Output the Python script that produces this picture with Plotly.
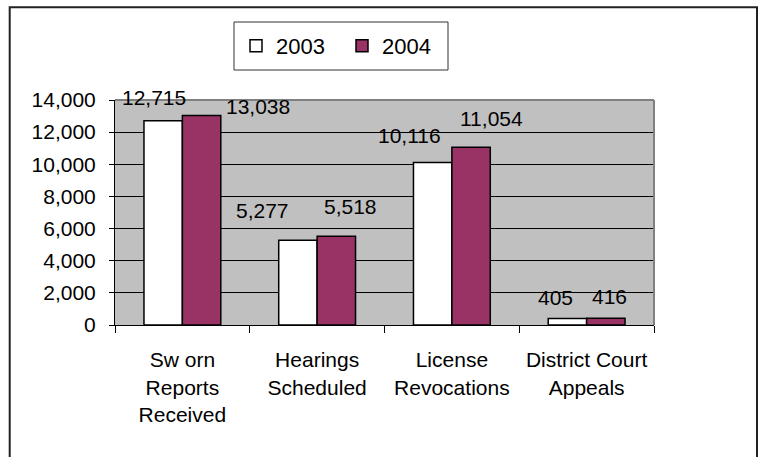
import plotly.graph_objects as go

categories = ["Sw orn<br>Reports<br>Received", "Hearings<br>Scheduled",
              "License<br>Revocations", "District Court<br>Appeals"]
series_names = ["2003", "2004"]
values_2003 = [12715, 5277, 10116, 405]
values_2004 = [13038, 5518, 11054, 416]
y_ticks = [0, 2000, 4000, 6000, 8000, 10000, 12000, 14000]

# label placement offsets (pixels) relative to category centre / bar top
lbl_dx_2003 = [-28.75, -54.75, -42.75, -30.75]
lbl_dy_2003 = [23.4, 29.5, 27.4, 20.5]
lbl_dx_2004 = [76, 33.25, 39.75, 23.25]
lbl_dy_2004 = [8.5, 29.6, 29.3, 21.6]

FONT = "Liberation Sans, Arial, sans-serif"
W, H = 760, 457
PLOT_L, PLOT_R, PLOT_T, PLOT_B = 115, 654, 100, 325  # page pixels
L, T = PLOT_L, PLOT_T
R, B = W - PLOT_R, H - PLOT_B
PW, PH = PLOT_R - PLOT_L, PLOT_B - PLOT_T


def px_x(p):
    return (p - PLOT_L) / PW


def px_y(p):
    return (PLOT_B - p) / PH


fig = go.Figure()
fig.add_trace(go.Bar(name=series_names[0], x=categories, y=values_2003,
                     marker=dict(color="#FFFFFF", line=dict(color="#000000", width=1.5))))
fig.add_trace(go.Bar(name=series_names[1], x=categories, y=values_2004,
                     marker=dict(color="#993366", line=dict(color="#000000", width=1.5))))

annotations = []
for vals, dxs, dys in [(values_2003, lbl_dx_2003, lbl_dy_2003),
                       (values_2004, lbl_dx_2004, lbl_dy_2004)]:
    for c, v, dx, dy in zip(categories, vals, dxs, dys):
        annotations.append(dict(x=c, y=v, xref="x", yref="y", text=f"{v:,}",
                                showarrow=False, xshift=dx, yshift=dy,
                                xanchor="center", yanchor="middle",
                                font=dict(family=FONT, size=21, color="#000000")))

shapes = [
    # outer chart border
    dict(type="rect", xref="paper", yref="paper", x0=px_x(9.7), x1=px_x(757),
         y0=px_y(470), y1=px_y(7.3), line=dict(color="#222222", width=2),
         fillcolor="rgba(0,0,0,0)", layer="below"),
    # legend box
    dict(type="rect", xref="paper", yref="paper", x0=px_x(234), x1=px_x(448),
         y0=px_y(70), y1=px_y(22), line=dict(color="#333333", width=1),
         fillcolor="#FFFFFF", layer="below"),
    # plot area top/right border
    dict(type="line", xref="paper", yref="paper", x0=0, x1=1, y0=1, y1=1,
         line=dict(color="#808080", width=2), layer="above"),
    dict(type="line", xref="paper", yref="paper", x0=1, x1=1, y0=0, y1=1,
         line=dict(color="#808080", width=2), layer="above"),
]

fig.update_layout(
    width=W, height=H, autosize=False,
    margin=dict(l=L, r=R, t=T, b=B, pad=0),
    paper_bgcolor="#FFFFFF", plot_bgcolor="#C0C0C0",
    barmode="group", bargap=0.43, bargroupgap=0,
    font=dict(family=FONT, size=21, color="#000000"),
    showlegend=True,
    legend=dict(orientation="h", x=px_x(236), xanchor="left",
                y=px_y(46), yanchor="middle",
                bgcolor="rgba(0,0,0,0)", borderwidth=0,
                font=dict(family=FONT, size=22, color="#000000"),
                entrywidth=61, entrywidthmode="pixels"),
    annotations=annotations, shapes=shapes,
)
fig.update_xaxes(type="category", tickson="boundaries", ticks="outside", ticklen=7,
                 tickcolor="#000000", showline=True, linecolor="#000000", linewidth=1,
                 showgrid=False, ticklabelstandoff=16,
                 tickfont=dict(family=FONT, size=21, color="#000000"))
fig.update_yaxes(range=[0, 14000], tickvals=y_ticks, tickformat=",", ticks="outside",
                 ticklen=5, tickcolor="#000000", showline=True, linecolor="#000000",
                 linewidth=1, showgrid=True, gridcolor="#000000", gridwidth=1,
                 zeroline=False, ticklabelstandoff=9,
                 tickfont=dict(family=FONT, size=21, color="#000000"))

fig.write_html("out.html", config={"displayModeBar": False},
               post_script="document.body.style.margin='0';"
                           "document.body.style.overflow='hidden';")
